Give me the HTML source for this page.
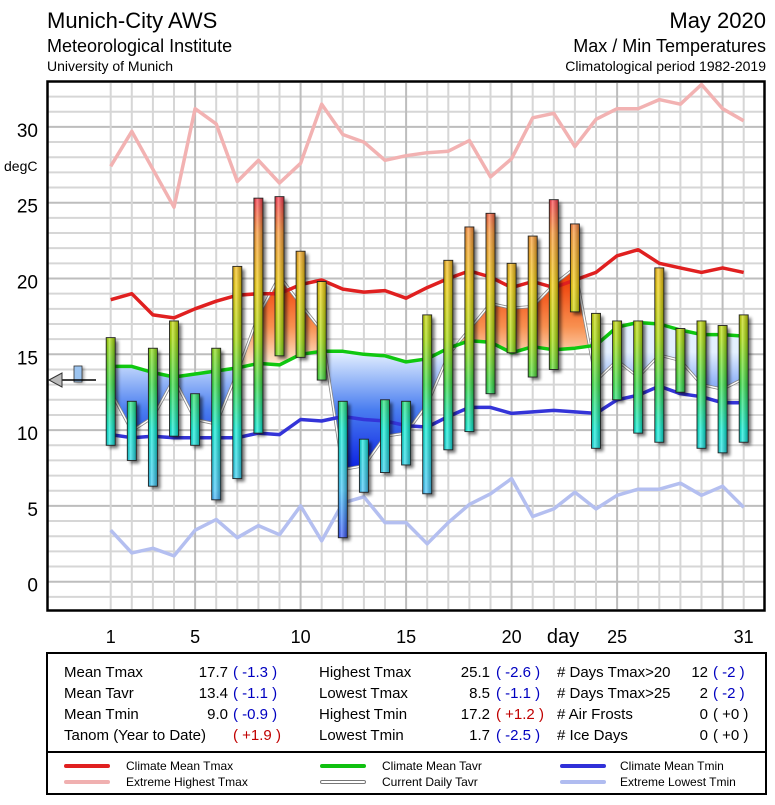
<!DOCTYPE html>
<html><head><meta charset="utf-8">
<style>
html,body{margin:0;padding:0;background:#fff;}
body{width:775px;height:800px;overflow:hidden;font-family:"Liberation Sans",sans-serif;}
svg text{font-family:"Liberation Sans",sans-serif;}
</style></head>
<body>
<svg id="chart" width="775" height="800" viewBox="0 0 775 800" xmlns="http://www.w3.org/2000/svg">
<defs>
  <linearGradient id="gBlue" gradientUnits="userSpaceOnUse" x1="0" y1="352" x2="0" y2="480">
    <stop offset="0" stop-color="#e4f0ff"/><stop offset="0.45" stop-color="#4a7ef0"/><stop offset="1" stop-color="#0010e0"/>
  </linearGradient>
  <linearGradient id="gOrange" gradientUnits="userSpaceOnUse" x1="0" y1="285" x2="0" y2="368">
    <stop offset="0" stop-color="#f04810"/><stop offset="0.5" stop-color="#f89050"/><stop offset="1" stop-color="#fff4e0"/>
  </linearGradient>
  <linearGradient id="gShine" x1="0" y1="0" x2="1" y2="0">
    <stop offset="0" stop-color="#000" stop-opacity="0.15"/><stop offset="0.35" stop-color="#fff" stop-opacity="0.35"/><stop offset="1" stop-color="#000" stop-opacity="0.3"/>
  </linearGradient>
  <filter id="shadow" x="-50%" y="-10%" width="200%" height="120%"><feGaussianBlur stdDeviation="1.5"/></filter>
</defs>
<g id="header">
  <text x="47" y="28" font-size="22">Munich-City AWS</text>
  <text x="47" y="52" font-size="18">Meteorological Institute</text>
  <text x="47" y="71" font-size="14">University of Munich</text>
  <text x="766" y="28" font-size="22" text-anchor="end">May 2020</text>
  <text x="766" y="52" font-size="18" text-anchor="end">Max / Min Temperatures</text>
  <text x="766" y="71" font-size="14" text-anchor="end">Climatological period 1982-2019</text>
</g>
<rect x="47.5" y="81.5" width="717" height="529" fill="#fff"/>
<g id="grid"></g>
<g id="yaxis"></g>
<g id="xaxis"></g>
<g id="fills"></g>
<g id="lines"></g>
<g id="bars"></g>
<g id="indicator">
  <rect x="76" y="367" width="8" height="16" fill="#000" opacity="0.4" filter="url(#shadow)"/>
  <rect x="74" y="366" width="8" height="16" fill="#9cc4f0" stroke="#333" stroke-width="0.8"/>
  <line x1="60" y1="380" x2="96" y2="380" stroke="#000" stroke-width="1.5"/>
  <polygon points="49,380 62,373 62,387" fill="#bbb" stroke="#333" stroke-width="1"/>
</g>
<rect x="47.5" y="81.5" width="717" height="529" fill="none" stroke="#000" stroke-width="2.5"/>

<g id="stats" font-size="15">
  <rect x="47" y="653" width="719" height="141" fill="#fff" stroke="#000" stroke-width="2"/>
  <line x1="47" y1="752" x2="766" y2="752" stroke="#000" stroke-width="2"/>
  <g>
    <text x="64" y="677">Mean Tmax</text><text x="228" y="677" text-anchor="end">17.7</text><text x="233" y="677" fill="#0000c0">( -1.3 )</text>
    <text x="64" y="698">Mean Tavr</text><text x="228" y="698" text-anchor="end">13.4</text><text x="233" y="698" fill="#0000c0">( -1.1 )</text>
    <text x="64" y="719">Mean Tmin</text><text x="228" y="719" text-anchor="end">9.0</text><text x="233" y="719" fill="#0000c0">( -0.9 )</text>
    <text x="64" y="740">Tanom (Year to Date)</text><text x="233" y="740" fill="#c00000">( +1.9 )</text>
  </g>
  <g>
    <text x="319" y="677">Highest Tmax</text><text x="490" y="677" text-anchor="end">25.1</text><text x="496" y="677" fill="#0000c0">( -2.6 )</text>
    <text x="319" y="698">Lowest Tmax</text><text x="490" y="698" text-anchor="end">8.5</text><text x="496" y="698" fill="#0000c0">( -1.1 )</text>
    <text x="319" y="719">Highest Tmin</text><text x="490" y="719" text-anchor="end">17.2</text><text x="496" y="719" fill="#c00000">( +1.2 )</text>
    <text x="319" y="740">Lowest Tmin</text><text x="490" y="740" text-anchor="end">1.7</text><text x="496" y="740" fill="#0000c0">( -2.5 )</text>
  </g>
  <g>
    <text x="557" y="677"># Days Tmax&gt;20</text><text x="708" y="677" text-anchor="end">12</text><text x="713" y="677" fill="#0000c0">( -2 )</text>
    <text x="557" y="698"># Days Tmax&gt;25</text><text x="708" y="698" text-anchor="end">2</text><text x="713" y="698" fill="#0000c0">( -2 )</text>
    <text x="557" y="719"># Air Frosts</text><text x="708" y="719" text-anchor="end">0</text><text x="713" y="719">( +0 )</text>
    <text x="557" y="740"># Ice Days</text><text x="708" y="740" text-anchor="end">0</text><text x="713" y="740">( +0 )</text>
  </g>
  <g font-size="12" stroke-linecap="round">
    <g><line x1="66" y1="766" x2="108" y2="766" stroke="#e02020" stroke-width="4"/><text x="126" y="770" stroke="none">Climate Mean Tmax</text></g>
    <g><line x1="66" y1="782" x2="108" y2="782" stroke="#f0b0b0" stroke-width="4"/><text x="126" y="786" stroke="none">Extreme Highest Tmax</text></g>
    <g><line x1="322" y1="766" x2="364" y2="766" stroke="#10c010" stroke-width="4"/><text x="382" y="770" stroke="none">Climate Mean Tavr</text></g>
    <g><line x1="322" y1="782" x2="364" y2="782" stroke="#777" stroke-width="4"/><line x1="322" y1="782" x2="364" y2="782" stroke="#fff" stroke-width="2"/><text x="382" y="786" stroke="none">Current Daily Tavr</text></g>
    <g><line x1="562" y1="766" x2="604" y2="766" stroke="#3030d8" stroke-width="4"/><text x="620" y="770" stroke="none">Climate Mean Tmin</text></g>
    <g><line x1="562" y1="782" x2="604" y2="782" stroke="#b0bcf0" stroke-width="4"/><text x="620" y="786" stroke="none">Extreme Lowest Tmin</text></g>
  </g>
</g>
</svg>
<script>
const days = [1,2,3,4,5,6,7,8,9,10,11,12,13,14,15,16,17,18,19,20,21,22,23,24,25,26,27,28,29,30,31];
const tmax = [16.1,11.9,15.4,17.2,12.4,15.4,20.8,25.3,25.4,21.8,19.8,11.9,9.4,12.0,11.9,17.6,21.2,23.4,24.3,21.0,22.8,25.2,23.6,17.7,17.2,17.2,20.7,16.7,17.2,16.9,17.6];
const tmin = [9.0,8.0,6.3,9.6,9.0,5.4,6.8,9.8,14.9,14.8,13.3,2.9,5.9,7.2,7.7,5.8,8.7,9.9,12.4,15.1,13.5,14.0,17.8,8.8,12.0,9.8,9.2,12.5,8.8,8.5,9.2];
const climTmax = [18.6,19.0,17.6,17.4,18.0,18.5,18.9,19.0,19.0,19.6,19.9,19.3,19.1,19.2,18.7,19.4,20.0,20.5,20.1,19.4,19.8,19.4,19.9,20.4,21.5,21.9,21.0,20.7,20.4,20.7,20.4];
const climTavr = [14.2,14.2,13.8,13.5,13.7,13.9,14.1,14.4,14.3,15.0,15.2,15.2,15.0,14.9,14.5,14.7,15.4,15.9,15.8,15.1,15.5,15.3,15.4,15.6,16.8,17.1,17.0,16.6,16.3,16.3,16.2];
const climTmin = [9.7,9.5,9.6,9.5,9.5,9.5,9.5,9.8,9.7,10.7,10.6,10.9,10.7,10.6,10.3,10.2,10.9,11.5,11.5,11.1,11.2,11.3,11.2,11.1,12.0,12.3,12.9,12.4,12.2,11.8,11.8];
const extHigh = [27.4,29.7,27.2,24.7,31.2,30.2,26.4,27.8,26.3,27.6,31.5,29.5,29.0,27.8,28.1,28.3,28.4,29.1,26.7,27.9,30.6,30.9,28.7,30.5,31.2,31.2,31.8,31.5,32.8,31.2,30.4];
const extLow = [3.4,1.9,2.2,1.7,3.4,4.1,2.9,3.7,3.1,5.0,2.7,5.2,5.6,3.9,3.9,2.5,3.9,5.1,5.8,6.8,4.3,4.8,5.9,4.8,5.7,6.1,6.1,6.5,5.7,6.3,4.9];
const yTicks = [0,5,10,15,20,25,30];
const xTickDays = [1,5,10,15,20,25,31];
const xTickLabels = ["1","5","10","15","20","25","31"];

const NS = "http://www.w3.org/2000/svg";
const X0 = 110.7, DX = 21.1, Y0 = 581.7, DY = 15.16;
function xs(d){ return X0 + (d-1)*DX; }
function ys(v){ return Y0 - v*DY; }
function mk(tag, attrs, parent){ const e=document.createElementNS(NS,tag); for(const k in attrs) e.setAttribute(k,attrs[k]); parent.appendChild(e); return e; }
const svg = document.getElementById('chart');
const defs = svg.querySelector('defs');

const bg = mk('linearGradient',{id:'gBar',gradientUnits:'userSpaceOnUse',x1:0,y1:ys(26),x2:0,y2:ys(2)},defs);
[[26,'#ff1850'],[23,'#ff9830'],[19.5,'#f4d000'],[16,'#a8e000'],[13,'#30e040'],[10,'#00f0d8'],[6,'#40c8ff'],[2,'#3030ff']].forEach(s=>{
  mk('stop',{offset:(26-s[0])/24,'stop-color':s[1]},bg);
});

const grid = document.getElementById('grid');
for(let v=-1; v<=33; v++){
  const y=ys(v); if(y<83||y>609) continue;
  const l = mk('line',{x1:48,x2:764,y1:y,y2:y,stroke:v%5===0?'#bdbdbd':'#d6d6d6','stroke-width':2},grid);
  
  
}
days.forEach(d=>{
  const l = mk('line',{x1:xs(d),x2:xs(d),y1:83,y2:609,stroke:d%5===0?'#bdbdbd':'#d6d6d6','stroke-width':2},grid);
  
  
});

const ya = document.getElementById('yaxis');
yTicks.forEach(v=>{
  const t = mk('text',{x:38,y:ys(v)+10,'font-size':19,'text-anchor':'end'},ya);
  t.textContent = v;
  
  
});
const yt = mk('text',{x:4,y:171,'font-size':14},ya);
yt.textContent='degC';



const xa = document.getElementById('xaxis');
xTickDays.forEach((d,i)=>{
  const t = mk('text',{x:xs(d),y:643,'font-size':18,'text-anchor':'middle'},xa);
  t.textContent = xTickLabels[i];
  
  
});
const xt = mk('text',{x:563,y:643,'font-size':20,'text-anchor':'middle'},xa);
xt.textContent='day';



function pts(arr){ return arr.map((v,i)=>xs(days[i]).toFixed(1)+','+ys(v).toFixed(1)); }

const tavr = tmax.map((v,i)=>(v+tmin[i])/2);
const greenPts = pts(climTavr);
const curPts = pts(tavr);
const cpB = mk('clipPath',{id:'clipBelow'},defs);
mk('polygon',{points:greenPts.join(' ')+' '+xs(31)+',610 '+xs(1)+',610'},cpB);
const cpA = mk('clipPath',{id:'clipAbove'},defs);
mk('polygon',{points:greenPts.join(' ')+' '+xs(31)+',82 '+xs(1)+',82'},cpA);
const fills = document.getElementById('fills');
const areaPts = curPts.join(' ')+' '+greenPts.slice().reverse().join(' ');
const fb = mk('polygon',{points:areaPts,fill:'url(#gBlue)','clip-path':'url(#clipBelow)'},fills);


const fa = mk('polygon',{points:areaPts,fill:'url(#gOrange)','clip-path':'url(#clipAbove)'},fills);



const lines = document.getElementById('lines');
function line(arr,color,name,w){
  const p = mk('polyline',{points:pts(arr).join(' '),fill:'none',stroke:color,'stroke-width':w||3.5,'stroke-linejoin':'round'},lines);
  
  
  return p;
}
line(extHigh,'#f2b2b2','extreme-highest-tmax-line');
line(extLow,'#b4bff0','extreme-lowest-tmin-line');
line(tavr,'#888','current-daily-tavr-outline',3);
line(tavr,'#fff','current-daily-tavr-line',1.4);
line(climTmax,'#e02020','climate-mean-tmax-line');
line(climTavr,'#10c810','climate-mean-tavr-line');
line(climTmin,'#3434d8','climate-mean-tmin-line');

const bars = document.getElementById('bars');
const BW = 9;
days.forEach((d,i)=>{
  const x = xs(d)-BW/2, yT = ys(tmax[i]), yB = ys(tmin[i]);
  const g = mk('g',{},bars);
  
  
  mk('rect',{x:x+3,y:yT+3,width:BW,height:yB-yT,fill:'#000',opacity:0.55,filter:'url(#shadow)'},g);
  mk('rect',{x:x,y:yT,width:BW,height:yB-yT,fill:'url(#gBar)'},g);
  mk('rect',{x:x,y:yT,width:BW,height:yB-yT,fill:'url(#gShine)',stroke:'#222','stroke-width':0.9},g);
});
</script>
</body></html>
